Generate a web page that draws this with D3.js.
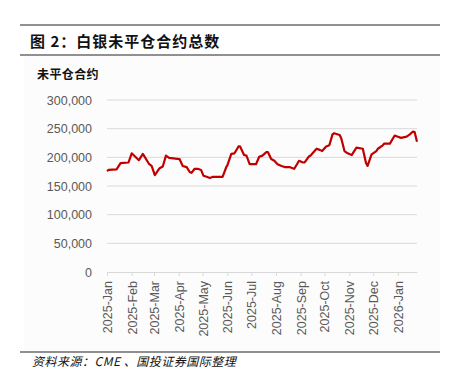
<!DOCTYPE html>
<html>
<head>
<meta charset="utf-8">
<script src="https://cdn.jsdelivr.net/npm/d3@7"></script>
<style>
  body { margin: 0; background: #fff; }
  svg { display: block; }
  .cjk { font-family: "Noto Sans CJK SC", sans-serif; }
  .tick text { font-family: "Liberation Sans", Arial, sans-serif; fill: #595959; }
</style>
</head>
<body>
<div id="chart"></div>
<script>
// traced vertices of the open interest line
const dates = [
  "2025-01-01", "2025-01-03", "2025-01-13", "2025-01-18", "2025-01-28", "2025-02-01",
  "2025-02-10", "2025-02-15", "2025-02-23", "2025-02-26", "2025-03-02", "2025-03-08",
  "2025-03-12", "2025-03-16", "2025-03-20", "2025-04-02", "2025-04-06", "2025-04-11",
  "2025-04-15", "2025-04-17", "2025-04-21", "2025-04-25", "2025-04-29", "2025-05-02",
  "2025-05-06", "2025-05-10", "2025-05-14", "2025-05-26", "2025-05-31", "2025-06-01",
  "2025-06-06", "2025-06-10", "2025-06-15", "2025-06-17", "2025-06-22", "2025-06-25",
  "2025-06-29", "2025-07-07", "2025-07-11", "2025-07-15", "2025-07-20", "2025-07-22",
  "2025-07-26", "2025-07-30", "2025-08-03", "2025-08-08", "2025-08-12", "2025-08-18",
  "2025-08-22", "2025-08-24", "2025-08-30", "2025-09-04", "2025-09-06", "2025-09-11",
  "2025-09-14", "2025-09-21", "2025-09-25", "2025-09-28", "2025-10-03", "2025-10-07",
  "2025-10-11", "2025-10-13", "2025-10-20", "2025-10-22", "2025-10-26", "2025-10-30",
  "2025-11-04", "2025-11-10", "2025-11-18", "2025-11-22", "2025-11-24", "2025-11-29",
  "2025-12-05", "2025-12-07", "2025-12-13", "2025-12-15", "2025-12-22", "2025-12-28",
  "2026-01-01", "2026-01-05", "2026-01-12", "2026-01-16", "2026-01-20", "2026-01-22",
  "2026-01-25"
];
const openInterest = [
  176000, 178000, 179000, 190000, 191000, 207000,
  195000, 206000, 188000, 185000, 169000, 181000,
  184000, 203000, 199000, 197000, 185000, 183000,
  174000, 173000, 180000, 180000, 178000, 168000,
  166000, 164000, 166000, 166000, 184000, 186000,
  206000, 207000, 219000, 219000, 204000, 203000,
  188000, 188000, 201000, 203000, 209000, 209000,
  197000, 194000, 188000, 185000, 183000, 183000,
  181000, 180000, 194000, 191000, 191000, 201000,
  204000, 215000, 213000, 211000, 219000, 221000,
  240000, 242000, 239000, 233000, 211000, 207000,
  204000, 217000, 215000, 190000, 185000, 205000,
  211000, 215000, 221000, 224000, 224000, 238000,
  236000, 234000, 236000, 240000, 245000, 244000,
  227000
];
const yTicks = [0, 50000, 100000, 150000, 200000, 250000, 300000];
const monthTicks = [
  "2025-01-01", "2025-02-01", "2025-03-01", "2025-04-01", "2025-05-01", "2025-06-01",
  "2025-07-01", "2025-08-01", "2025-09-01", "2025-10-01", "2025-11-01", "2025-12-01",
  "2026-01-01"
];

const parse = d3.timeParse("%Y-%m-%d");
const series = dates.map((d, i) => ({ date: parse(d), value: openInterest[i] }));

const W = 451, H = 382;
const svg = d3.select("#chart").append("svg").attr("width", W).attr("height", H);

// faint panel behind the chart
svg.append("rect").attr("x", 24).attr("y", 56).attr("width", 416).attr("height", 296)
  .attr("fill", "#fcfcfc");

// title block
svg.append("line").attr("x1", 20).attr("x2", 440).attr("y1", 25).attr("y2", 25)
  .attr("stroke", "#222").attr("stroke-width", 1);
svg.append("line").attr("x1", 20).attr("x2", 440).attr("y1", 55).attr("y2", 55)
  .attr("stroke", "#222").attr("stroke-width", 1);
svg.append("text").attr("class", "cjk").attr("x", 30).attr("y", 47)
  .attr("font-size", 15).attr("font-weight", "bold").attr("letter-spacing", 1)
  .attr("fill", "#111").text("图 2：白银未平仓合约总数");
svg.append("text").attr("class", "cjk").attr("x", 37).attr("y", 79)
  .attr("font-size", 12).attr("font-weight", "bold").attr("letter-spacing", 0.4)
  .attr("fill", "#111").text("未平仓合约");

const x = d3.scaleTime()
  .domain([parse("2025-01-01"), parse("2026-01-25")])
  .range([107, 417]);
const y = d3.scaleLinear().domain([0, 300000]).range([272, 100]);

// gridlines
svg.append("g").selectAll("line")
  .data(yTicks.filter(v => v > 0))
  .join("line")
  .attr("x1", 107).attr("x2", 417)
  .attr("y1", d => y(d)).attr("y2", d => y(d))
  .attr("stroke", "#d9d9d9").attr("stroke-width", 1);

// y axis labels
const yAxis = svg.append("g").attr("transform", "translate(92,0)")
  .call(d3.axisLeft(y).tickValues(yTicks).tickFormat(d3.format(",")).tickSize(0).tickPadding(0));
yAxis.select(".domain").remove();
yAxis.selectAll("text").attr("font-size", 12.5);

// x axis
const xAxis = svg.append("g").attr("transform", "translate(0,272)")
  .call(d3.axisBottom(x).tickValues(monthTicks.map(parse))
    .tickFormat(d3.timeFormat("%Y-%b")).tickSize(4).tickSizeOuter(0));
xAxis.select(".domain").attr("stroke", "#d9d9d9");
xAxis.selectAll(".tick line").attr("stroke", "#d9d9d9");
xAxis.selectAll("text")
  .attr("font-size", 12.5)
  .attr("transform", "rotate(-90)")
  .attr("text-anchor", "end")
  .attr("x", -9).attr("y", 0).attr("dy", "0.35em");

// line
svg.append("path").datum(series)
  .attr("fill", "none")
  .attr("stroke", "#c00000")
  .attr("stroke-width", 2.2)
  .attr("stroke-linejoin", "round")
  .attr("d", d3.line().x(d => x(d.date)).y(d => y(d.value)));

// footer
svg.append("line").attr("x1", 20).attr("x2", 440).attr("y1", 352).attr("y2", 352)
  .attr("stroke", "#222").attr("stroke-width", 1);
svg.append("text").attr("class", "cjk").attr("x", 32).attr("y", 366)
  .attr("font-size", 12).attr("font-style", "italic").attr("letter-spacing", 0.5)
  .attr("fill", "#111").text("资料来源：CME 、国投证券国际整理");
</script>
</body>
</html>
